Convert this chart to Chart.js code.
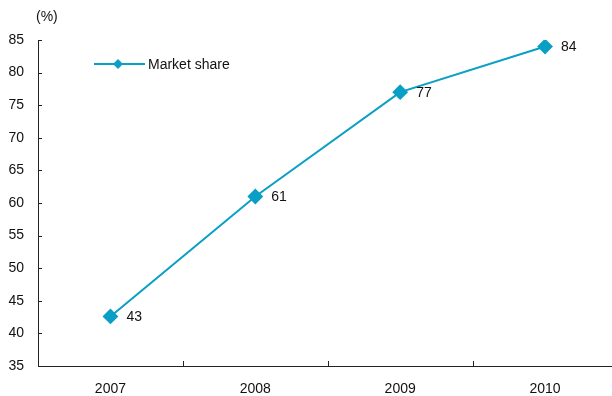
<!DOCTYPE html>
<html>
<head>
<meta charset="utf-8">
<script src="https://cdn.jsdelivr.net/npm/chart.js@4"></script>
<style>
  html, body { margin: 0; padding: 0; background: #fff; overflow: hidden; }
  canvas { display: block; }
</style>
</head>
<body>
<canvas id="chart" width="626" height="396"></canvas>
<script>
const years = ["2007", "2008", "2009", "2010"];
const marketShare = [42.6, 61, 77, 84];
const shareLabels = ["43", "61", "77", "84"];
const yTicks = [35, 40, 45, 50, 55, 60, 65, 70, 75, 80, 85];

const lineColor = "#0a9fc4";
const axisColor = "#222";
const fontFamily = "'Liberation Sans', Arial, sans-serif";

// inward tick marks, value labels, unit label and legend
const extras = {
  id: "extras",
  afterDatasetsDraw(chart) {
    const ctx = chart.ctx;
    const x = chart.scales.x;
    const y = chart.scales.y;
    const area = chart.chartArea;
    ctx.save();
    ctx.strokeStyle = axisColor;
    ctx.lineWidth = 1;
    yTicks.forEach((v) => {
      const py = Math.round(y.getPixelForValue(v)) + 0.5;
      ctx.beginPath();
      ctx.moveTo(area.left, py);
      ctx.lineTo(area.left + 4, py);
      ctx.stroke();
    });
    for (let i = 0; i < years.length - 1; i++) {
      const px = Math.round((x.getPixelForValue(i) + x.getPixelForValue(i + 1)) / 2) + 0.5;
      ctx.beginPath();
      ctx.moveTo(px, area.bottom);
      ctx.lineTo(px, area.bottom - 5);
      ctx.stroke();
    }

    ctx.fillStyle = "#111";
    ctx.font = "14px " + fontFamily;
    ctx.textBaseline = "middle";
    ctx.textAlign = "left";
    const meta = chart.getDatasetMeta(0);
    meta.data.forEach((pt, i) => {
      ctx.fillText(shareLabels[i], pt.x + 16, pt.y + 1);
    });

    ctx.fillText("(%)", 36, 17);

    // legend
    const ly = 64;
    ctx.strokeStyle = lineColor;
    ctx.lineWidth = 2;
    ctx.beginPath();
    ctx.moveTo(94, ly);
    ctx.lineTo(145, ly);
    ctx.stroke();
    ctx.fillStyle = lineColor;
    ctx.beginPath();
    ctx.moveTo(118, ly - 5);
    ctx.lineTo(123, ly);
    ctx.lineTo(118, ly + 5);
    ctx.lineTo(113, ly);
    ctx.closePath();
    ctx.fill();
    ctx.fillStyle = "#111";
    ctx.fillText("Market share", 148, ly + 1);
    ctx.restore();
  }
};

new Chart(document.getElementById("chart"), {
  type: "line",
  data: {
    labels: years,
    datasets: [
      {
        label: "Market share",
        data: marketShare,
        borderColor: lineColor,
        backgroundColor: lineColor,
        borderWidth: 2,
        pointStyle: "rectRot",
        pointRadius: 6.5,
        pointHoverRadius: 6.5,
        tension: 0
      }
    ]
  },
  options: {
    responsive: false,
    animation: false,
    events: [],
    layout: { padding: { top: 40, left: 0, right: 0, bottom: 0 } },
    plugins: { legend: { display: false }, tooltip: { enabled: false } },
    scales: {
      x: {
        offset: true,
        grid: { display: false },
        border: { display: true, color: axisColor, width: 1 },
        ticks: { color: "#111", font: { size: 14, family: fontFamily }, padding: 7 },
        afterFit: (scale) => { scale.height = 30; }
      },
      y: {
        min: 35,
        max: 85,
        grid: { display: false },
        border: { display: true, color: axisColor, width: 1 },
        ticks: {
          stepSize: 5,
          color: "#111",
          padding: 6,
          font: { size: 14, family: fontFamily }
        },
        afterFit: (scale) => { scale.width = 38; }
      }
    }
  },
  plugins: [extras]
});
</script>
</body>
</html>
